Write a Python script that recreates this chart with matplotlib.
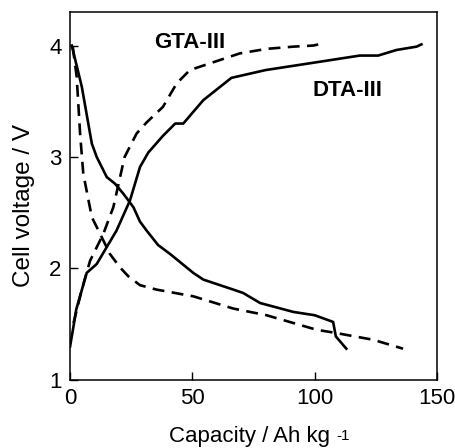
import matplotlib
matplotlib.use("Agg")
import matplotlib.pyplot as plt

plt.rcParams['font.family'] = ['Liberation Sans', 'DejaVu Sans']

# DTA-III charge (solid, rising)
dta_c_x = [0, 1.4, 2.5, 6.8, 10.9, 19, 24.5, 28.6, 32, 38, 43, 46.3, 54.5, 66, 80, 100.8, 118.5, 126, 133.5, 141.7, 143.7]
dta_c_y = [1.30, 1.48, 1.63, 1.96, 2.04, 2.34, 2.61, 2.91, 3.04, 3.19, 3.30, 3.30, 3.51, 3.71, 3.78, 3.85, 3.91, 3.91, 3.96, 3.99, 4.01]
# DTA-III discharge (solid, falling)
dta_d_x = [0.7, 4.8, 8.9, 10.9, 15, 18.4, 21.8, 25.9, 28.6, 31.3, 36, 40.9, 50.4, 54.5, 66.8, 70.8, 77.7, 91.3, 100.1, 107.6, 108.7, 113]
dta_d_y = [4.00, 3.63, 3.12, 3.00, 2.82, 2.76, 2.67, 2.55, 2.42, 2.34, 2.21, 2.13, 1.96, 1.90, 1.81, 1.78, 1.69, 1.61, 1.58, 1.52, 1.39, 1.28]
# GTA-III charge (dashed, rising)
gta_c_x = [1.4, 4.8, 8.2, 13.6, 17.7, 22.3, 27.2, 31.3, 38, 43.6, 49, 57.2, 69.5, 80.4, 91.3, 99.5, 101.5]
gta_c_y = [1.51, 1.81, 2.07, 2.31, 2.55, 3.00, 3.21, 3.31, 3.45, 3.66, 3.78, 3.84, 3.93, 3.97, 3.99, 4.00, 4.01]
# GTA-III discharge (dashed, falling)
gta_d_x = [1.1, 2.7, 4.1, 5.4, 8.9, 12.3, 16.3, 20.4, 23.8, 28.6, 35.4, 50.4, 66.8, 80.4, 100.8, 109, 124, 136.2]
gta_d_y = [3.99, 3.72, 3.21, 2.85, 2.46, 2.31, 2.13, 2.01, 1.93, 1.85, 1.81, 1.75, 1.64, 1.58, 1.45, 1.42, 1.36, 1.28]

xticks = [0, 50, 100, 150]
yticks = [1, 2, 3, 4]

fig = plt.figure(figsize=(4.55, 4.48), dpi=100)
ax = fig.add_axes([0.154, 0.152, 0.806, 0.821])

lw = 1.9
ax.plot(dta_c_x, dta_c_y, color='black', lw=lw, solid_joinstyle='round')
ax.plot(dta_d_x, dta_d_y, color='black', lw=lw, solid_joinstyle='round')
ax.plot(gta_c_x, gta_c_y, color='black', lw=lw, dashes=(4.5, 2.8))
ax.plot(gta_d_x, gta_d_y, color='black', lw=lw, dashes=(4.5, 2.8))

ax.text(49, 4.03, 'GTA-III', fontsize=16, fontweight='bold', ha='center', va='center')
ax.text(113.6, 3.6, 'DTA-III', fontsize=16, fontweight='bold', ha='center', va='center')

ax.set_xlim(0, 150)
ax.set_ylim(1, 4.3)
ax.set_xticks(xticks)
ax.set_yticks(yticks)
ax.tick_params(direction='in', length=6, width=1, labelsize=16, pad=6)
for s in ax.spines.values():
    s.set_linewidth(1.1)

ax.set_ylabel('Cell voltage / V', fontsize=17.5)
ax.yaxis.set_label_coords(-0.096, 0.475)

# x label: main text plus a small "-1" exponent
main = fig.text(0.372, 1 - 442 / 448, 'Capacity / Ah kg', fontsize=16,
                ha='left', va='baseline')
fig.canvas.draw()
bb = main.get_window_extent()
fig.text((bb.x1 + 6) / fig.bbox.width, 1 - 440 / 448, '-1', fontsize=11,
         ha='left', va='baseline')

fig.savefig('out.png', dpi=100)
